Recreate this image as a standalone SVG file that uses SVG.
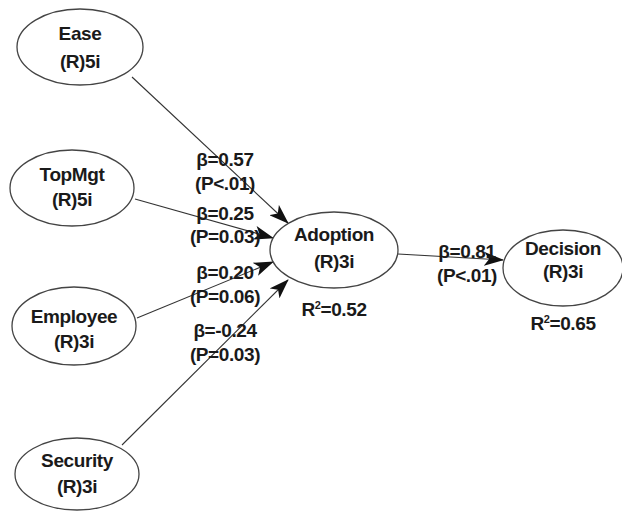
<svg xmlns="http://www.w3.org/2000/svg" width="622" height="511" viewBox="0 0 622 511">
<defs>
<style>
.n ellipse{fill:#fff;stroke:#444;stroke-width:1.3}
text{font-family:"Liberation Sans Narrow","Liberation Sans",Arial,sans-serif;font-weight:bold;font-size:19px;letter-spacing:-0.4px;fill:#1a1a1a;text-anchor:middle}
.c line{stroke:#333;stroke-width:1.1}
</style>
<marker id="ah" viewBox="0 0 20 14" refX="19" refY="7" markerWidth="20" markerHeight="14" markerUnits="userSpaceOnUse" orient="auto">
<path d="M0,0 L20,7 L0,14 L5,7 Z" fill="#111"/>
</marker>
</defs>
<rect width="622" height="511" fill="#fff"/>
<g class="c" id="connectors">
<line x1="132" y1="77" x2="288" y2="223" marker-end="url(#ah)"/>
<line x1="135" y1="199" x2="273" y2="238" marker-end="url(#ah)"/>
<line x1="137" y1="318" x2="273" y2="262" marker-end="url(#ah)"/>
<line x1="122" y1="445" x2="288" y2="280" marker-end="url(#ah)"/>
<line x1="398" y1="254" x2="503" y2="260" marker-end="url(#ah)"/>
</g>
<g id="labels">
<text x="225" y="166">β=0.57</text>
<text x="225" y="190">(P&lt;.01)</text>
<text x="225" y="220">β=0.25</text>
<text x="225" y="243">(P=0.03)</text>
<text x="225" y="279">β=0.20</text>
<text x="225" y="303">(P=0.06)</text>
<text x="225" y="337">β=-0.24</text>
<text x="225" y="361">(P=0.03)</text>
<text x="467" y="258">β=0.81</text>
<text x="467" y="282">(P&lt;.01)</text>
</g>
<g class="n" id="ease"><ellipse cx="80" cy="47" rx="63" ry="38"/><text x="80" y="40">Ease</text><text x="80" y="68">(R)5i</text></g>
<g class="n" id="topmgt"><ellipse cx="72" cy="188" rx="62" ry="38"/><text x="72" y="181">TopMgt</text><text x="72" y="206">(R)5i</text></g>
<g class="n" id="employee"><ellipse cx="74" cy="326" rx="62" ry="39"/><text x="74" y="323">Employee</text><text x="74" y="348">(R)3i</text></g>
<g class="n" id="security"><ellipse cx="77" cy="474" rx="62" ry="36"/><text x="77" y="467">Security</text><text x="77" y="493">(R)3i</text></g>
<g class="n" id="adoption"><ellipse cx="334" cy="250" rx="64" ry="38"/><text x="334" y="241">Adoption</text><text x="334" y="268">(R)3i</text><text x="334" y="316">R<tspan font-size="11" dy="-7">2</tspan><tspan dy="7">=0.52</tspan></text></g>
<g class="n" id="decision"><ellipse cx="563" cy="268" rx="60" ry="38"/><text x="563" y="255">Decision</text><text x="563" y="278">(R)3i</text><text x="563" y="330">R<tspan font-size="11" dy="-7">2</tspan><tspan dy="7">=0.65</tspan></text></g>
</svg>
